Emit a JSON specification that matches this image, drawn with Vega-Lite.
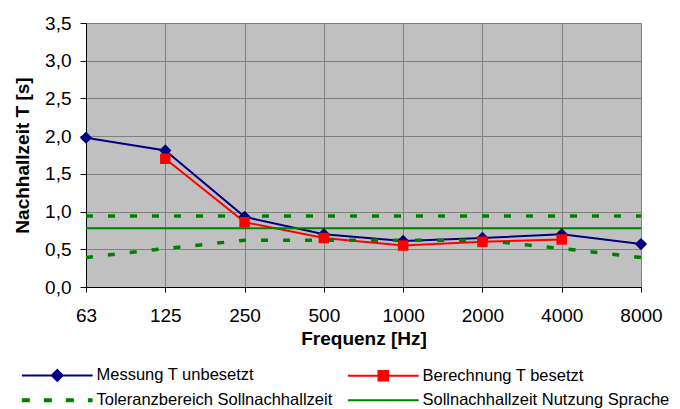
{
  "$schema": "https://vega.github.io/schema/vega-lite/v6.json",
  "width": 555,
  "height": 264,
  "autosize": {"type": "none"},
  "padding": {"left": 86, "top": 23, "right": 39, "bottom": 122},
  "background": "white",
  "config": {
    "font": "Liberation Sans",
    "view": {"fill": "#c0c0c0", "stroke": null},
    "axis": {
      "domainColor": "#000000",
      "domainWidth": 1,
      "tickColor": "#000000",
      "tickWidth": 1,
      "labelColor": "#000000",
      "labelFont": "Liberation Sans",
      "labelFontSize": 19,
      "titleFont": "Liberation Sans",
      "titleFontSize": 19,
      "titleFontWeight": "bold",
      "titleColor": "#000000",
      "gridColor": "#808080",
      "gridOpacity": 1,
      "gridWidth": 1
    }
  },
  "data": {
    "values": [
      {"freq": "63", "value": 1.98, "series": "Messung T unbesetzt", "line": "M"},
      {"freq": "125", "value": 1.81, "series": "Messung T unbesetzt", "line": "M"},
      {"freq": "250", "value": 0.93, "series": "Messung T unbesetzt", "line": "M"},
      {"freq": "500", "value": 0.70, "series": "Messung T unbesetzt", "line": "M"},
      {"freq": "1000", "value": 0.61, "series": "Messung T unbesetzt", "line": "M"},
      {"freq": "2000", "value": 0.65, "series": "Messung T unbesetzt", "line": "M"},
      {"freq": "4000", "value": 0.70, "series": "Messung T unbesetzt", "line": "M"},
      {"freq": "8000", "value": 0.57, "series": "Messung T unbesetzt", "line": "M"},
      {"freq": "125", "value": 1.70, "series": "Berechnung T besetzt", "line": "B"},
      {"freq": "250", "value": 0.86, "series": "Berechnung T besetzt", "line": "B"},
      {"freq": "500", "value": 0.65, "series": "Berechnung T besetzt", "line": "B"},
      {"freq": "1000", "value": 0.55, "series": "Berechnung T besetzt", "line": "B"},
      {"freq": "2000", "value": 0.60, "series": "Berechnung T besetzt", "line": "B"},
      {"freq": "4000", "value": 0.63, "series": "Berechnung T besetzt", "line": "B"},
      {"freq": "63", "value": 0.94, "series": "Toleranzbereich Sollnachhallzeit", "line": "TU"},
      {"freq": "125", "value": 0.94, "series": "Toleranzbereich Sollnachhallzeit", "line": "TU"},
      {"freq": "250", "value": 0.94, "series": "Toleranzbereich Sollnachhallzeit", "line": "TU"},
      {"freq": "500", "value": 0.94, "series": "Toleranzbereich Sollnachhallzeit", "line": "TU"},
      {"freq": "1000", "value": 0.94, "series": "Toleranzbereich Sollnachhallzeit", "line": "TU"},
      {"freq": "2000", "value": 0.94, "series": "Toleranzbereich Sollnachhallzeit", "line": "TU"},
      {"freq": "4000", "value": 0.94, "series": "Toleranzbereich Sollnachhallzeit", "line": "TU"},
      {"freq": "8000", "value": 0.94, "series": "Toleranzbereich Sollnachhallzeit", "line": "TU"},
      {"freq": "63", "value": 0.39, "series": "Toleranzbereich Sollnachhallzeit", "line": "TL"},
      {"freq": "125", "value": 0.51, "series": "Toleranzbereich Sollnachhallzeit", "line": "TL"},
      {"freq": "250", "value": 0.62, "series": "Toleranzbereich Sollnachhallzeit", "line": "TL"},
      {"freq": "500", "value": 0.62, "series": "Toleranzbereich Sollnachhallzeit", "line": "TL"},
      {"freq": "1000", "value": 0.62, "series": "Toleranzbereich Sollnachhallzeit", "line": "TL"},
      {"freq": "2000", "value": 0.62, "series": "Toleranzbereich Sollnachhallzeit", "line": "TL"},
      {"freq": "4000", "value": 0.51, "series": "Toleranzbereich Sollnachhallzeit", "line": "TL"},
      {"freq": "8000", "value": 0.39, "series": "Toleranzbereich Sollnachhallzeit", "line": "TL"},
      {"freq": "63", "value": 0.78, "series": "Sollnachhallzeit Nutzung Sprache", "line": "S"},
      {"freq": "125", "value": 0.78, "series": "Sollnachhallzeit Nutzung Sprache", "line": "S"},
      {"freq": "250", "value": 0.78, "series": "Sollnachhallzeit Nutzung Sprache", "line": "S"},
      {"freq": "500", "value": 0.78, "series": "Sollnachhallzeit Nutzung Sprache", "line": "S"},
      {"freq": "1000", "value": 0.78, "series": "Sollnachhallzeit Nutzung Sprache", "line": "S"},
      {"freq": "2000", "value": 0.78, "series": "Sollnachhallzeit Nutzung Sprache", "line": "S"},
      {"freq": "4000", "value": 0.78, "series": "Sollnachhallzeit Nutzung Sprache", "line": "S"},
      {"freq": "8000", "value": 0.78, "series": "Sollnachhallzeit Nutzung Sprache", "line": "S"}
    ]
  },
  "encoding": {
    "x": {
      "field": "freq",
      "type": "ordinal",
      "sort": ["63", "125", "250", "500", "1000", "2000", "4000", "8000"],
      "scale": {"type": "point", "padding": 0},
      "axis": {
        "title": "Frequenz [Hz]",
        "labelAngle": 0,
        "tickSize": 5,
        "labelPadding": 14,
        "titlePadding": 4,
        "grid": true
      }
    },
    "y": {
      "field": "value",
      "type": "quantitative",
      "scale": {"domain": [0, 3.5], "nice": false, "zero": true},
      "axis": {
        "title": "Nachhallzeit T [s]",
        "values": [0, 0.5, 1, 1.5, 2, 2.5, 3, 3.5],
        "labelExpr": "replace(format(datum.value, '.1f'), '.', ',')",
        "tickSize": 6,
        "labelPadding": 9,
        "titlePadding": 12,
        "grid": true
      }
    },
    "color": {
      "field": "series",
      "type": "nominal",
      "scale": {
        "domain": ["Messung T unbesetzt", "Berechnung T besetzt", "Toleranzbereich Sollnachhallzeit", "Sollnachhallzeit Nutzung Sprache"],
        "range": ["#000080", "#ff0000", "#008000", "#008000"]
      },
      "legend": {
        "title": null,
        "orient": "none",
        "legendX": -64,
        "legendY": 344,
        "columns": 2,
        "direction": "horizontal",
        "padding": 0,
        "labelFont": "Liberation Sans",
        "labelFontSize": 16.5,
        "labelColor": "#000000",
        "labelLimit": 0,
        "symbolSize": 144,
        "symbolStrokeWidth": 2,
        "symbolOffset": 27,
        "labelOffset": 31,
        "columnPadding": 10,
        "rowPadding": 7,
        "encode": {
          "symbols": {
            "update": {
              "shape": {"signal": "datum.value === 'Messung T unbesetzt' ? 'M-5.9,0H5.9M0,-0.9L0.9,0L0,0.9L-0.9,0Z' : datum.value === 'Berechnung T besetzt' ? 'M-5.9,0H5.9M-0.8,-0.8H0.8V0.8H-0.8Z' : 'M-5.9,0H5.9'"},
              "stroke": {"signal": "datum.value === 'Messung T unbesetzt' ? '#000080' : datum.value === 'Berechnung T besetzt' ? '#ff0000' : '#008000'"},
              "fill": {"signal": "datum.value === 'Messung T unbesetzt' ? '#000080' : datum.value === 'Berechnung T besetzt' ? '#ff0000' : 'transparent'"},
              "strokeDash": {"signal": "datum.value === 'Toleranzbereich Sollnachhallzeit' ? [8, 14] : [1, 0]"},
              "strokeWidth": {"signal": "datum.value === 'Toleranzbereich Sollnachhallzeit' ? 4 : 2"},
              "opacity": {"value": 1}
            }
          }
        }
      }
    }
  },
  "layer": [
    {
      "transform": [{"filter": "datum.series === 'Messung T unbesetzt'"}],
      "mark": {"type": "line", "strokeWidth": 2}
    },
    {
      "transform": [{"filter": "datum.series === 'Berechnung T besetzt'"}],
      "mark": {"type": "line", "strokeWidth": 2}
    },
    {
      "transform": [{"filter": "datum.series === 'Toleranzbereich Sollnachhallzeit'"}],
      "mark": {"type": "line", "strokeWidth": 3.5, "strokeDash": [7, 15]},
      "encoding": {"detail": {"field": "line", "type": "nominal"}}
    },
    {
      "transform": [{"filter": "datum.series === 'Sollnachhallzeit Nutzung Sprache'"}],
      "mark": {"type": "line", "strokeWidth": 2}
    },
    {
      "transform": [{"filter": "datum.series === 'Messung T unbesetzt' || datum.series === 'Berechnung T besetzt'"}],
      "mark": {"type": "point", "filled": true, "opacity": 1},
      "encoding": {
        "shape": {
          "field": "series",
          "type": "nominal",
          "scale": {"domain": ["Messung T unbesetzt", "Berechnung T besetzt"], "range": ["diamond", "square"]},
          "legend": null
        },
        "size": {
          "field": "series",
          "type": "nominal",
          "scale": {"domain": ["Messung T unbesetzt", "Berechnung T besetzt"], "range": [150, 110]},
          "legend": null
        }
      }
    }
  ]
}
